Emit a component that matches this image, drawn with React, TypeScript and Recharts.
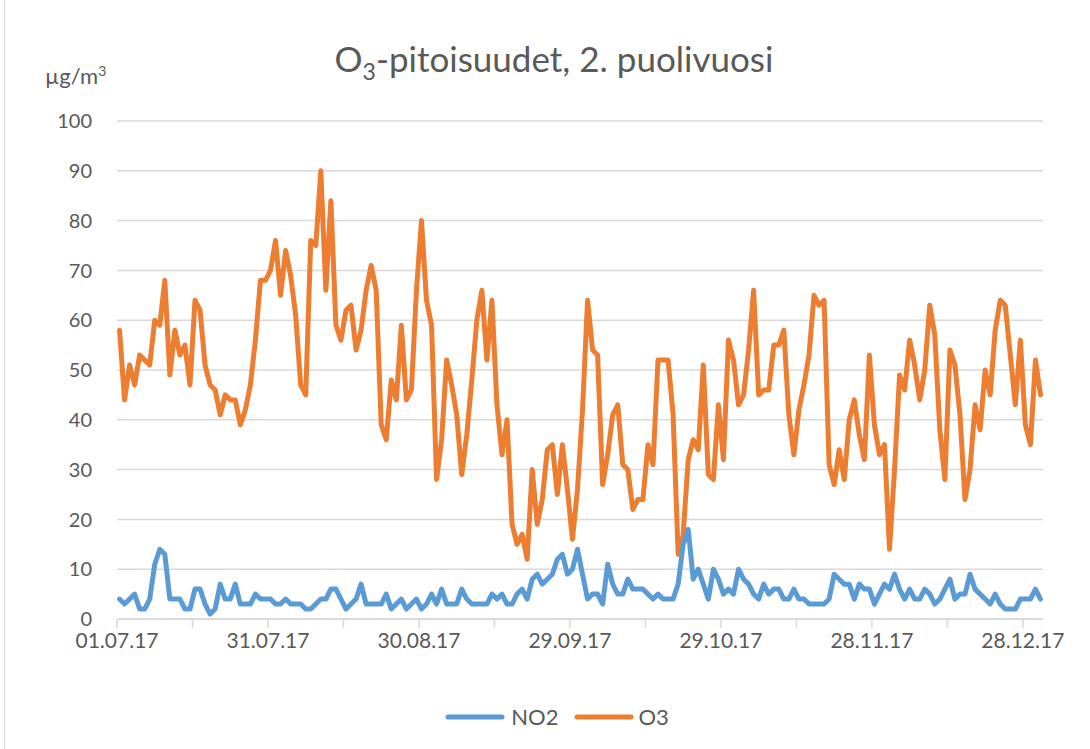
import React from 'react';
import { LineChart, Line, XAxis, YAxis, CartesianGrid } from 'recharts';

const xTickLabels = ['01.07.17', '31.07.17', '30.08.17', '29.09.17', '29.10.17', '28.11.17', '28.12.17'];
const yTicks = [0, 10, 20, 30, 40, 50, 60, 70, 80, 90, 100];

const o3Values = [
  58, 44, 51, 47, 53, 52, 51, 60, 59, 68, 49, 58, 53, 55, 47, 64, 62, 51, 47, 46,
  41, 45, 44, 44, 39, 42, 47, 56, 68, 68, 70, 76, 65, 74, 69, 61, 47, 45, 76, 75,
  90, 66, 84, 59, 56, 62, 63, 54, 58, 66, 71, 66, 39, 36, 48, 44, 59, 44, 46, 66,
  80, 64, 59, 28, 36, 52, 47, 41, 29, 37, 48, 60, 66, 52, 64, 43, 33, 40, 19, 15,
  17, 12, 30, 19, 24, 34, 35, 25, 35, 26, 16, 26, 42, 64, 54, 53, 27, 33, 41, 43,
  31, 30, 22, 24, 24, 35, 31, 52, 52, 52, 41, 13, 17, 32, 36, 34, 51, 29, 28, 43,
  32, 56, 52, 43, 45, 54, 66, 45, 46, 46, 55, 55, 58, 41, 33, 42, 47, 53, 65, 63,
  64, 31, 27, 34, 28, 40, 44, 37, 32, 53, 39, 33, 35, 14, 30, 49, 46, 56, 51, 44,
  50, 63, 57, 38, 28, 54, 51, 41, 24, 30, 43, 38, 50, 45, 58, 64, 63, 53, 43, 56,
  39, 35, 52, 45,
];

const no2Values = [
  4, 3, 4, 5, 2, 2, 4, 11, 14, 13, 4, 4, 4, 2, 2, 6, 6, 3, 1, 2,
  7, 4, 4, 7, 3, 3, 3, 5, 4, 4, 4, 3, 3, 4, 3, 3, 3, 2, 2, 3,
  4, 4, 6, 6, 4, 2, 3, 4, 7, 3, 3, 3, 3, 5, 2, 3, 4, 2, 3, 4,
  2, 3, 5, 3, 6, 3, 3, 3, 6, 4, 3, 3, 3, 3, 5, 4, 5, 3, 3, 5,
  6, 4, 8, 9, 7, 8, 9, 12, 13, 9, 10, 14, 9, 4, 5, 5, 3, 11, 7, 5,
  5, 8, 6, 6, 6, 5, 4, 5, 4, 4, 4, 7, 15, 18, 8, 10, 7, 4, 10, 8,
  5, 6, 5, 10, 8, 7, 5, 4, 7, 5, 6, 6, 4, 4, 6, 4, 4, 3, 3, 3,
  3, 4, 9, 8, 7, 7, 4, 7, 6, 6, 3, 5, 7, 6, 9, 6, 4, 6, 4, 4,
  6, 5, 3, 4, 6, 8, 4, 5, 5, 9, 6, 5, 4, 3, 5, 3, 2, 2, 2, 4,
  4, 4, 6, 4,
];

const data = o3Values.map((v, i) => ({ day: i, O3: v, NO2: no2Values[i] }));
const xTicks = Array.from({ length: 13 }, (_, i) => i * 15 - 0.5);

const FONT = 'Lato, "Open Sans", sans-serif';
const GRAY = '#595959';
const NO2_COLOR = '#5B9BD5';
const O3_COLOR = '#ED7D31';

export default function App() {
  return (
    <div style={{ position: 'absolute', left: 0, top: 0, width: 1090, height: 749, background: '#fff', fontFamily: FONT }}>
      <div style={{ position: 'absolute', left: 4, top: 0, width: 1, height: 749, background: '#d9d9d9' }} />
      <div style={{ position: 'absolute', left: 0, width: 1108, top: 36, textAlign: 'center', fontSize: 35, color: GRAY, lineHeight: '44px' }}>
        O<sub style={{ fontSize: 23, verticalAlign: 'sub' }}>3</sub>-pitoisuudet, 2. puolivuosi
      </div>
      <div style={{ position: 'absolute', left: 45, top: 62, fontSize: 22, color: GRAY }}>
        µg/m<sup style={{ fontSize: 14, verticalAlign: 'super' }}>3</sup>
      </div>
      <LineChart width={1090} height={749} data={data} margin={{ top: 121, right: 47, bottom: 90, left: 0 }}>
        <CartesianGrid horizontal vertical={false} stroke="#d9d9d9" strokeWidth={1.5} />
        <XAxis
          dataKey="day"
          type="number"
          domain={[-0.5, 183.5]}
          ticks={xTicks}
          interval={0}
          tickFormatter={(v: number, i: number) => (i % 2 === 0 ? xTickLabels[i / 2] : '')}
          axisLine={{ stroke: '#d9d9d9', strokeWidth: 1.5 }}
          tickLine={{ stroke: '#d9d9d9', strokeWidth: 1.5 }}
          tickSize={9}
          tickMargin={5}
          tick={{ fill: GRAY, fontSize: 21, fontFamily: FONT }}
          height={40}
        />
        <YAxis
          type="number"
          domain={[0, 100]}
          ticks={yTicks}
          interval={0}
          axisLine={false}
          tickLine={false}
          tickSize={10}
          tickMargin={15}
          width={117}
          tick={{ fill: GRAY, fontSize: 20, fontFamily: FONT }}
        />
        <Line
          type="linear"
          dataKey="O3"
          stroke={O3_COLOR}
          strokeWidth={5}
          dot={false}
          strokeLinejoin="round"
          strokeLinecap="round"
          isAnimationActive={false}
        />
        <Line
          type="linear"
          dataKey="NO2"
          stroke={NO2_COLOR}
          strokeWidth={5}
          dot={false}
          strokeLinejoin="round"
          strokeLinecap="round"
          isAnimationActive={false}
        />
      </LineChart>
      <div style={{ position: 'absolute', top: 703, left: 0, width: 1114, display: 'flex', justifyContent: 'center', alignItems: 'center', fontSize: 22, color: GRAY }}>
        <svg width={60} height={10}><line x1={3} y1={5} x2={57} y2={5} stroke={NO2_COLOR} strokeWidth={5} strokeLinecap="round" /></svg>
        <span style={{ marginLeft: 6, marginRight: 16 }}>NO2</span>
        <svg width={60} height={10}><line x1={3} y1={5} x2={57} y2={5} stroke={O3_COLOR} strokeWidth={5} strokeLinecap="round" /></svg>
        <span style={{ marginLeft: 4 }}>O3</span>
      </div>
    </div>
  );
}
